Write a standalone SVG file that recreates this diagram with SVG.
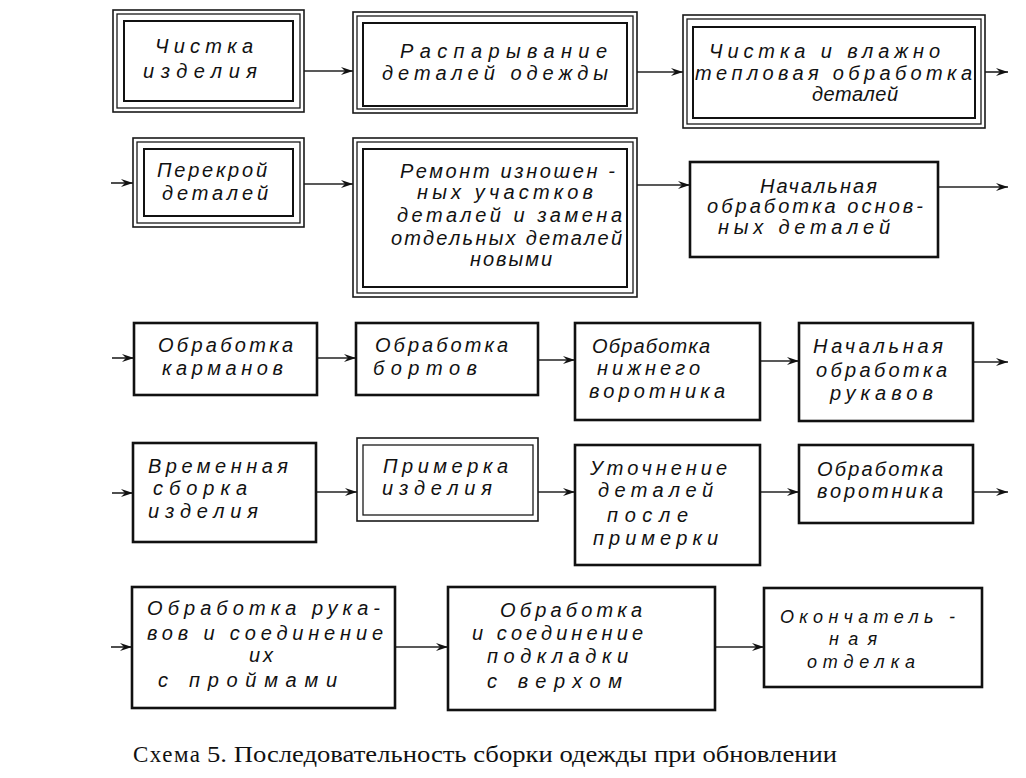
<svg xmlns="http://www.w3.org/2000/svg" width="1026" height="778" viewBox="0 0 1026 778">
<style>
.bg{fill:#ffffff}
.o{fill:none;stroke:#1a1a1a;stroke-width:1.6}
.m{fill:none;stroke:#1a1a1a;stroke-width:1.3}
.i{fill:none;stroke:#111;stroke-width:2}
.s{fill:none;stroke:#111;stroke-width:2.6}
.t{font-family:"Liberation Sans","DejaVu Sans",sans-serif;font-style:italic;font-size:20px;fill:#111}
.sm{font-size:18px}
.c{stroke:#222;stroke-width:1.6;fill:none;marker-end:url(#ah)}
.cap{font-family:"Liberation Serif","DejaVu Serif",serif;font-size:23px;fill:#111}
</style>
<defs>
<marker id="ah" markerUnits="userSpaceOnUse" markerWidth="13" markerHeight="9" refX="12" refY="4.5" orient="auto">
<path d="M0,0.5 L12,4.5 L0,8.5 L4,4.5 Z" fill="#111"/>
</marker>
</defs>
<rect class="bg" x="0" y="0" width="1026" height="778"/>

<g id="connectors">
<line class="c" x1="304" y1="71" x2="353" y2="71"/>
<line class="c" x1="637" y1="72" x2="683" y2="72"/>
<line class="c" x1="985" y1="72" x2="1008" y2="72"/>
<line class="c" x1="111" y1="183" x2="133" y2="183"/>
<line class="c" x1="304" y1="184" x2="353" y2="184"/>
<line class="c" x1="637" y1="185" x2="690" y2="185"/>
<line class="c" x1="938" y1="187" x2="1008" y2="187"/>
<line class="c" x1="112" y1="358" x2="134" y2="358"/>
<line class="c" x1="317" y1="358" x2="356" y2="358"/>
<line class="c" x1="538" y1="360" x2="575" y2="360"/>
<line class="c" x1="760" y1="361" x2="799" y2="361"/>
<line class="c" x1="973" y1="362" x2="1008" y2="362"/>
<line class="c" x1="112" y1="493" x2="133" y2="493"/>
<line class="c" x1="316" y1="492" x2="357" y2="492"/>
<line class="c" x1="538" y1="492" x2="575" y2="492"/>
<line class="c" x1="760" y1="492" x2="799" y2="492"/>
<line class="c" x1="973" y1="492" x2="1008" y2="492"/>
<line class="c" x1="111" y1="647" x2="132" y2="647"/>
<line class="c" x1="395" y1="647" x2="448" y2="647"/>
<line class="c" x1="715" y1="647" x2="764" y2="647"/>
</g>

<g id="node-chistka-izdeliya">
<rect class="o" x="113" y="10" width="191" height="102"/>
<rect class="m" x="117" y="14" width="183" height="94"/>
<rect class="i" x="124" y="21" width="169" height="80"/>
<text class="t" x="155" y="53" textLength="98">Чистка</text>
<text class="t" x="143" y="78" textLength="114">изделия</text>
</g>

<g id="node-rasparyvanie">
<rect class="o" x="353" y="12" width="284" height="101"/>
<rect class="m" x="357" y="16" width="276" height="93"/>
<rect class="i" x="363" y="23" width="264" height="83"/>
<text class="t" x="400" y="58" textLength="207">Распарывание</text>
<text class="t" x="382" y="80" textLength="226">деталей одежды</text>
</g>

<g id="node-chistka-vlazhno">
<rect class="o" x="683" y="15" width="302" height="113"/>
<rect class="m" x="687" y="19" width="294" height="105"/>
<rect class="i" x="693" y="27" width="282" height="91"/>
<text class="t" x="709" y="58" textLength="231">Чистка и влажно</text>
<text class="t" x="695" y="80" textLength="277">тепловая обработка</text>
<text class="t" x="812" y="101" textLength="86">деталей</text>
</g>

<g id="node-perekroi">
<rect class="o" x="133" y="138" width="171" height="89"/>
<rect class="m" x="137" y="142" width="163" height="81"/>
<rect class="i" x="144" y="149" width="149" height="67"/>
<text class="t" x="157" y="177" textLength="110">Перекрой</text>
<text class="t" x="162" y="200" textLength="106">деталей</text>
</g>

<g id="node-remont">
<rect class="o" x="353" y="138" width="284" height="159"/>
<rect class="m" x="357" y="142" width="276" height="151"/>
<rect class="i" x="363" y="149" width="264" height="138"/>
<text class="t" x="400" y="178" textLength="215">Ремонт изношен -</text>
<text class="t" x="417" y="199" textLength="176">ных участков</text>
<text class="t" x="397" y="222" textLength="225">деталей и замена</text>
<text class="t" x="391" y="245" textLength="231">отдельных деталей</text>
<text class="t" x="470" y="266" textLength="82">новыми</text>
</g>

<g id="node-nachalnaya-osnovnyh">
<rect class="s" x="690" y="162" width="248" height="95"/>
<text class="t" x="760" y="193" textLength="117">Начальная</text>
<text class="t" x="707" y="213" textLength="216">обработка основ-</text>
<text class="t" x="718" y="234" textLength="172">ных деталей</text>
</g>

<g id="node-karmanov">
<rect class="s" x="134" y="323" width="183" height="72"/>
<text class="t" x="158" y="352" textLength="135">Обработка</text>
<text class="t" x="162" y="375" textLength="121">карманов</text>
</g>

<g id="node-bortov">
<rect class="s" x="356" y="323" width="182" height="72"/>
<text class="t" x="375" y="352" textLength="133">Обработка</text>
<text class="t" x="373" y="375" textLength="104">бортов</text>
</g>

<g id="node-nizhnego-vorotnika">
<rect class="s" x="575" y="323" width="185" height="97"/>
<text class="t" x="592" y="353" textLength="118">Обработка</text>
<text class="t" x="597" y="375" textLength="103">нижнего</text>
<text class="t" x="589" y="398" textLength="136">воротника</text>
</g>

<g id="node-nachalnaya-rukavov">
<rect class="s" x="799" y="323" width="174" height="98"/>
<text class="t" x="813" y="353" textLength="130">Начальная</text>
<text class="t" x="816" y="377" textLength="131">обработка</text>
<text class="t" x="830" y="400" textLength="103">рукавов</text>
</g>

<g id="node-vremennaya">
<rect class="s" x="133" y="443" width="183" height="99"/>
<text class="t" x="148" y="473" textLength="140">Временная</text>
<text class="t" x="153" y="495" textLength="94">сборка</text>
<text class="t" x="148" y="518" textLength="110">изделия</text>
</g>

<g id="node-primerka">
<rect class="o" x="357" y="438" width="181" height="83"/>
<rect class="m" x="363" y="445" width="170" height="70"/>
<text class="t" x="383" y="473" textLength="125">Примерка</text>
<text class="t" x="382" y="495" textLength="110">изделия</text>
</g>

<g id="node-utochnenie">
<rect class="s" x="575" y="445" width="185" height="120"/>
<text class="t" x="590" y="475" textLength="137">Уточнение</text>
<text class="t" x="598" y="497" textLength="115">деталей</text>
<text class="t" x="607" y="522" textLength="81">после</text>
<text class="t" x="593" y="545" textLength="125">примерки</text>
</g>

<g id="node-vorotnika">
<rect class="s" x="799" y="445" width="174" height="78"/>
<text class="t" x="817" y="476" textLength="126">Обработка</text>
<text class="t" x="817" y="498" textLength="126">воротника</text>
</g>

<g id="node-rukavov-proimy">
<rect class="s" x="132" y="587" width="263" height="121"/>
<text class="t" x="147" y="615" textLength="233">Обработка рука-</text>
<text class="t" x="147" y="640" textLength="236">вов и соединение</text>
<text class="t" x="249" y="662" textLength="24">их</text>
<text class="t" x="158" y="687" textLength="179">с проймами</text>
</g>

<g id="node-podkladki">
<rect class="s" x="448" y="587" width="267" height="123"/>
<text class="t" x="500" y="617" textLength="142">Обработка</text>
<text class="t" x="472" y="640" textLength="171">и соединение</text>
<text class="t" x="487" y="663" textLength="141">подкладки</text>
<text class="t" x="487" y="688" textLength="135">с верхом</text>
</g>

<g id="node-otdelka">
<rect class="s" x="764" y="588" width="218" height="99"/>
<text class="t sm" x="780" y="623" textLength="175">Окончатель -</text>
<text class="t sm" x="829" y="645" textLength="48">ная</text>
<text class="t sm" x="807" y="668" textLength="108">отделка</text>
</g>

<g id="caption">
<text class="cap" x="133" y="762" textLength="67">Схема</text>
<text class="cap" x="207" y="762" textLength="630" lengthAdjust="spacingAndGlyphs">5. Последовательность сборки одежды при обновлении</text>
</g>
</svg>
